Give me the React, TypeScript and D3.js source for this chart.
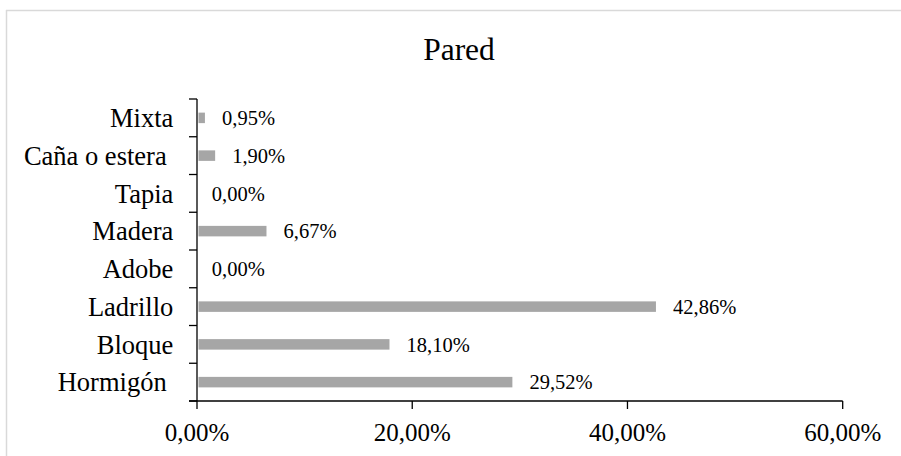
import React from "react";
import * as d3 from "d3";

const categories = ["Mixta", "Caña o estera ", "Tapia", "Madera", "Adobe", "Ladrillo", "Bloque", "Hormigón "];
const values = [0.0095, 0.019, 0, 0.0667, 0, 0.4286, 0.181, 0.2952];
const xTicks = [0, 0.2, 0.4, 0.6];
const title = "Pared";

const W = 901;
const H = 456;
const FONT = "'Liberation Serif', 'Times New Roman', serif";

const fmt = (v: number) => (v * 100).toFixed(2).replace(".", ",") + "%";

export default function App() {
  const x = d3.scaleLinear().domain([0, 0.6]).range([197, 842.7]);
  const y = d3.scaleBand<string>().domain(categories).range([99, 401]).padding(0);
  const barH = 10.5;
  const barInsetL = 1.5;
  const barInsetR = 2.3;
  const x0 = x(0);
  const yBottom = 401;
  const boundaries = d3.range(categories.length + 1).map((i) => 99 + i * y.step());

  return (
    <div style={{ position: "absolute", left: 0, top: 0 }}>
      <svg width={W} height={H} style={{ display: "block", background: "#fff" }}>
        <line x1={6.5} x2={6.5} y1={10} y2={H} stroke="#d9d9d9" strokeWidth={1.5} />
        <line x1={6} x2={W} y1={10.5} y2={10.5} stroke="#d9d9d9" strokeWidth={1.5} />
        <text x={459} y={60} textAnchor="middle" fontFamily={FONT} fontSize={31.5} fill="#000">
          {title}
        </text>
        {categories.map((c, i) => {
          const cy = (y(c) as number) + y.bandwidth() / 2;
          const w = x(values[i]) - x0 - barInsetL - barInsetR;
          return (
            <g key={c}>
              {w > 0 && (
                <rect x={x0 + barInsetL} y={cy - barH / 2} width={w} height={barH} fill="#a6a6a6" />
              )}
              <text
                x={x(values[i]) + 14.8}
                y={cy}
                dy="0.35em"
                fontFamily={FONT}
                fontSize={20.5}
                fill="#000"
              >
                {fmt(values[i])}
              </text>
              <text
                x={173.3}
                y={cy}
                dy="0.35em"
                textAnchor="end"
                fontFamily={FONT}
                fontSize={26.5}
                fill="#000"
                style={{ whiteSpace: "pre" }}
              >
                {c}
              </text>
            </g>
          );
        })}
        <line x1={x0} x2={x0} y1={99} y2={yBottom} stroke="#000" strokeWidth={1.3} />
        {boundaries.map((b, i) => (
          <line key={"yt" + i} x1={x0 - 8} x2={x0} y1={b} y2={b} stroke="#000" strokeWidth={1.3} />
        ))}
        <line x1={x0 - 8} x2={x(0.6)} y1={yBottom} y2={yBottom} stroke="#000" strokeWidth={1.3} />
        {xTicks.map((t) => (
          <g key={"xt" + t}>
            <line x1={x(t)} x2={x(t)} y1={yBottom} y2={yBottom + 8} stroke="#000" strokeWidth={1.3} />
            <text x={x(t)} y={441} textAnchor="middle" fontFamily={FONT} fontSize={25} fill="#000">
              {fmt(t)}
            </text>
          </g>
        ))}
      </svg>
    </div>
  );
}
